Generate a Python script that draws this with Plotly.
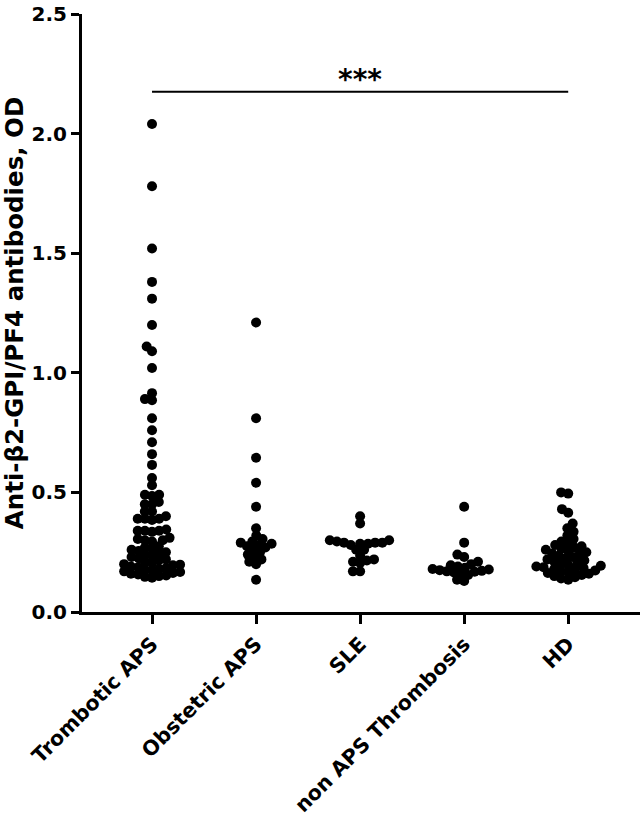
import plotly.graph_objects as go
import numpy as np

categories = ["Trombotic APS", "Obstetric APS", "SLE", "non APS Thrombosis", "HD"]

trombotic_aps = [2.04, 1.78, 1.52, 1.38, 1.31, 1.20, 1.11, 1.09, 1.02, 0.915, 0.89, 0.885,
                 0.81, 0.76, 0.71, 0.66, 0.615, 0.56, 0.53,
                 0.49, 0.49, 0.485, 0.46, 0.45, 0.45, 0.42, 0.40, 0.42, 0.39, 0.39, 0.39,
                 0.385, 0.34, 0.345, 0.34, 0.335, 0.34, 0.30, 0.305, 0.30, 0.31, 0.295,
                 0.275, 0.27, 0.265, 0.26, 0.255, 0.25, 0.245, 0.24, 0.235, 0.23, 0.225,
                 0.22, 0.215, 0.21, 0.205, 0.20, 0.198, 0.195, 0.19, 0.187, 0.184, 0.18,
                 0.177, 0.174, 0.17, 0.167, 0.163, 0.16, 0.157, 0.153, 0.15, 0.147, 0.143]
obstetric_aps = [1.21, 0.81, 0.645, 0.54, 0.44, 0.35, 0.32, 0.305, 0.295, 0.29, 0.285,
                 0.28, 0.275, 0.27, 0.26, 0.25, 0.24, 0.23, 0.22, 0.21, 0.20, 0.135]
sle = [0.40, 0.37, 0.30, 0.295, 0.29, 0.29, 0.285, 0.285, 0.28, 0.29, 0.30,
       0.26, 0.26, 0.235, 0.22, 0.215, 0.21, 0.205, 0.17, 0.17]
non_aps_thrombosis = [0.44, 0.29, 0.24, 0.23, 0.21, 0.20, 0.195, 0.19, 0.185, 0.18,
                      0.178, 0.175, 0.172, 0.17, 0.168, 0.165, 0.16, 0.155, 0.135, 0.13]
hd = [0.50, 0.495, 0.43, 0.415, 0.37, 0.35, 0.335, 0.32, 0.305, 0.295, 0.285, 0.28, 0.275,
      0.27, 0.265, 0.26, 0.255, 0.25, 0.245, 0.24, 0.235, 0.23, 0.225, 0.22, 0.215, 0.21,
      0.205, 0.20, 0.197, 0.193, 0.19, 0.187, 0.184, 0.18, 0.177, 0.174, 0.17, 0.167,
      0.163, 0.16, 0.155, 0.15, 0.145, 0.14, 0.135]

groups = [trombotic_aps, obstetric_aps, sle, non_aps_thrombosis, hd]

y_ticks = [0.0, 0.5, 1.0, 1.5, 2.0, 2.5]
sig_y = 2.175
sig_label = "***"

# layout geometry (pixels)
W, H = 642, 820
ml, mr, mt, mb = 82, 2, 11, 208
x_range = [-0.673, 4.69]
y_range = [0, 2.5]
px_per_x = (W - ml - mr) / (x_range[1] - x_range[0])
px_per_y = (H - mt - mb) / (y_range[1] - y_range[0])
sep = 7.2  # minimum centre distance (allows slight overlap like the original)


def swarm(values):
    """Beeswarm offsets in pixels for each value."""
    order = np.argsort(values)
    placed = []
    offs = np.zeros(len(values))
    for i in order:
        yp = values[i] * px_per_y
        cands = [0.0]
        for (xo, yo) in placed:
            dy = yp - yo
            if abs(dy) < sep:
                dx = np.sqrt(sep ** 2 - dy ** 2)
                cands += [xo + dx, xo - dx]
        cands = sorted(cands, key=lambda c: (abs(c), c))
        for c in cands:
            ok = True
            for (xo, yo) in placed:
                if (c - xo) ** 2 + (yp - yo) ** 2 < sep ** 2 - 1e-6:
                    ok = False
                    break
            if ok:
                offs[i] = c
                placed.append((c, yp))
                break
    return offs


fig = go.Figure()
for gi, vals in enumerate(groups):
    offs = swarm(np.array(vals))
    xs = gi + offs / px_per_x
    fig.add_trace(go.Scatter(
        x=xs, y=vals, mode="markers",
        marker=dict(color="black", size=10, line=dict(width=0)),
        showlegend=False, hoverinfo="y"))

fig.add_shape(type="line", x0=0, x1=4, y0=sig_y, y1=sig_y, xref="x", yref="y",
              line=dict(color="black", width=2))
font_fam = "DejaVu Sans, Arial, sans-serif"
fig.add_annotation(x=2, y=sig_y, text="<b>" + sig_label + "</b>", showarrow=False,
                   yanchor="bottom", yshift=-6,
                   font=dict(size=28, color="black", family=font_fam))

fig.update_layout(
    width=W, height=H,
    margin=dict(l=ml, r=mr, t=mt, b=mb, pad=0),
    plot_bgcolor="white", paper_bgcolor="white",
    font=dict(family=font_fam, color="black"),
    xaxis=dict(
        range=x_range, tickmode="array", tickvals=list(range(len(categories))),
        ticktext=[f"<b>{c}</b>" for c in categories], tickangle=-45,
        showline=True, linecolor="black", linewidth=3, ticks="outside",
        ticklen=9, tickwidth=3, tickcolor="black", showgrid=False, zeroline=False,
        tickfont=dict(size=20.5, family=font_fam, color="black"),
        ticklabeloverflow="allow",
    ),
    yaxis=dict(
        range=y_range, tickmode="array", tickvals=y_ticks,
        ticktext=[f"<b>{v:.1f}</b>" for v in y_ticks],
        showline=True, linecolor="black", linewidth=3, ticks="outside",
        ticklen=8, tickwidth=3, tickcolor="black", showgrid=False, zeroline=False,
        tickfont=dict(size=20, family=font_fam, color="black"),
        ticklabeloverflow="allow",
        title=dict(text="<b>Anti-β2-GPI/PF4 antibodies, OD</b>",
                   font=dict(size=24.5, family=font_fam, color="black"), standoff=5),
    ),
)

fig.write_html("out.html")
